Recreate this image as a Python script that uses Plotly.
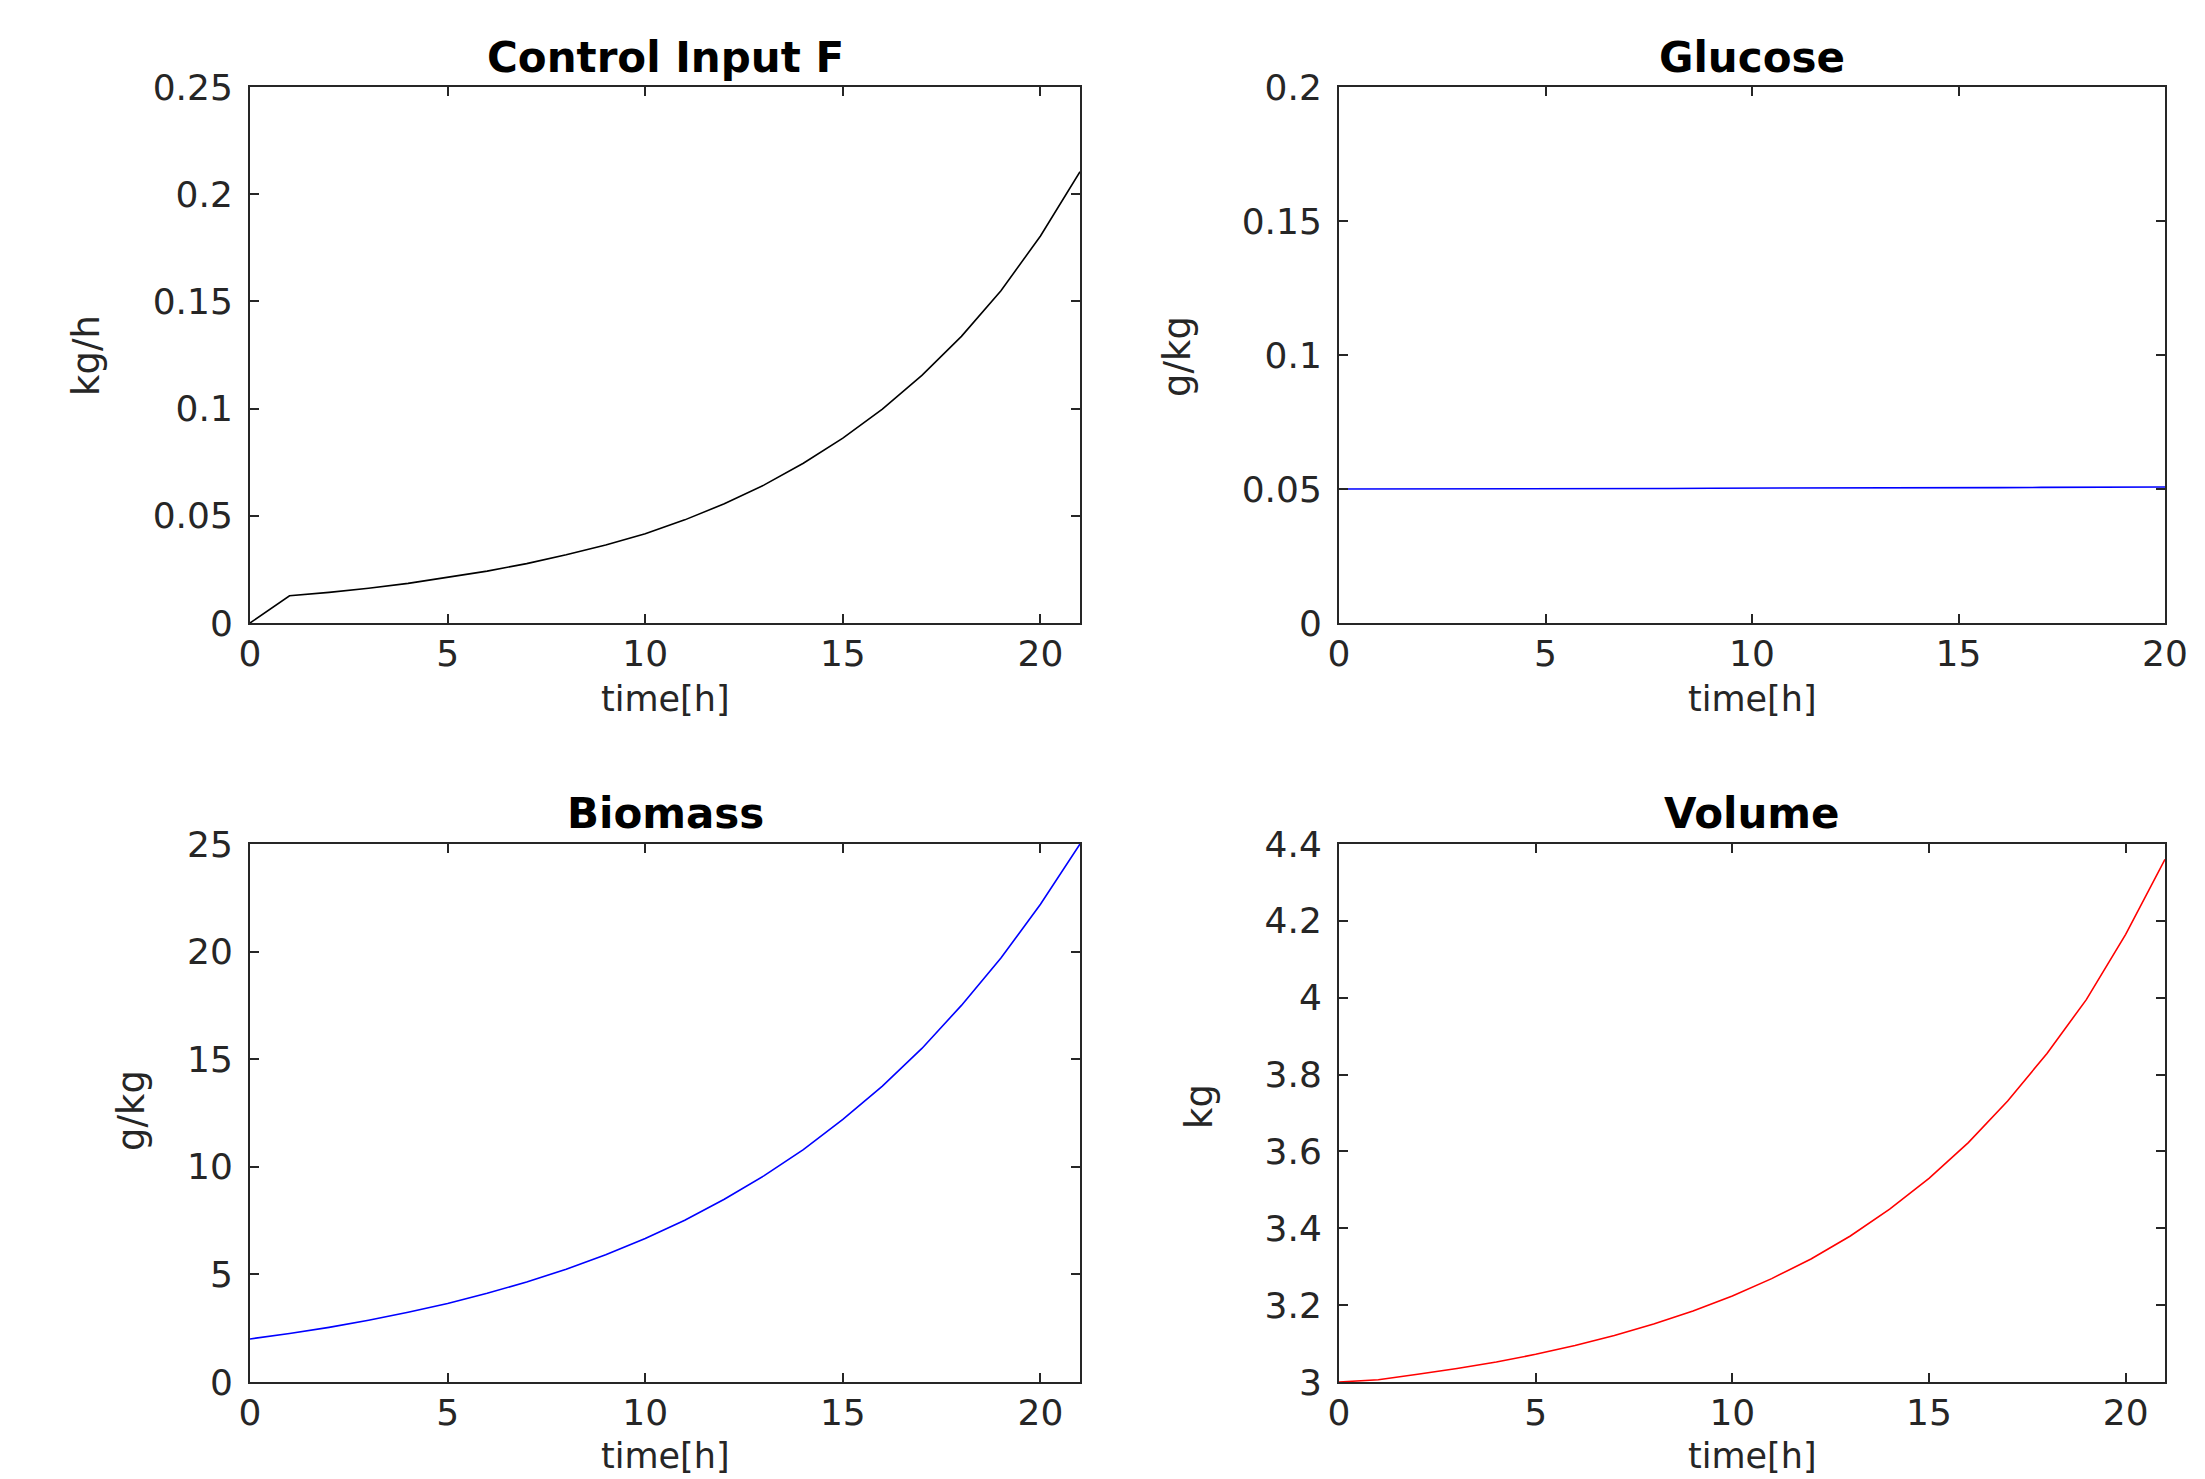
import plotly.graph_objects as go

# ---- data ----
t_hours = list(range(0, 22))
feed_F = [0, 0.0127, 0.0143, 0.0162, 0.0185, 0.0212, 0.0242, 0.0277, 0.0318, 0.0364, 0.0416,
          0.0481, 0.0556, 0.0643, 0.0745, 0.0862, 0.0998, 0.1155, 0.1337, 0.1550, 0.1805, 0.2105]
glucose_S = [0.0500, 0.0500, 0.0500, 0.0501, 0.0501, 0.0501, 0.0502, 0.0502, 0.0502, 0.0503, 0.0503,
             0.0503, 0.0504, 0.0504, 0.0504, 0.0505, 0.0505, 0.0506, 0.0506, 0.0507, 0.0507, 0.0508]
biomass_X = [2.0, 2.25, 2.54, 2.87, 3.24, 3.65, 4.12, 4.65, 5.24, 5.91, 6.67,
             7.52, 8.49, 9.58, 10.8, 12.2, 13.75, 15.5, 17.5, 19.7, 22.2, 25.0]
volume_V = [3.0, 3.006, 3.020, 3.035, 3.052, 3.072, 3.095, 3.121, 3.151, 3.185, 3.224,
            3.269, 3.320, 3.380, 3.450, 3.530, 3.623, 3.731, 3.855, 3.995, 4.165, 4.36]

titles = ["Control Input F", "Glucose", "Biomass", "Volume"]
ylabels = ["kg/h", "g/kg", "g/kg", "kg"]
xlabel = "time[h]"
x_ranges = [[0, 21], [0, 20], [0, 21], [0, 21]]
y_ranges = [[0, 0.25], [0, 0.2], [0, 25], [3, 4.4]]
y_dticks = [0.05, 0.05, 5, 0.2]
colors = ["black", "blue", "blue", "red"]
series = [feed_F, glucose_S, biomass_X, volume_V]

W, H = 2205, 1479
OFF = 8  # page body margin: figure pixel p is shown at p + OFF
# panel pixel boxes on screen (left, right, top, bottom)
boxes = [(250, 1080, 87, 623), (1339, 2165, 87, 623),
         (250, 1080, 844, 1382), (1339, 2165, 844, 1382)]
ylabel_pos = [(86, 356), (1177, 357), (131, 1111), (1199, 1107)]
xlabel_y = [699, 699, 1456, 1456]
title_y = [58, 58, 813, 813]

FONT = "DejaVu Sans"
AX = "#262626"


def px(v):
    return (v - OFF) / W


def py(v):
    return 1 - (v - OFF) / H


fig = go.Figure()
layout = dict(width=W, height=H, margin=dict(l=0, r=0, t=0, b=0, pad=0, autoexpand=False),
              paper_bgcolor="white", plot_bgcolor="white", showlegend=False)
annotations = []
for i in range(4):
    n = "" if i == 0 else str(i + 1)
    l, r, t, b = boxes[i]
    fig.add_trace(go.Scatter(x=t_hours, y=series[i], mode="lines",
                             line=dict(color=colors[i], width=1.6),
                             xaxis="x" + n, yaxis="y" + n, hoverinfo="skip"))
    common = dict(showline=True, linecolor=AX, linewidth=2, mirror="ticks",
                  ticks="inside", ticklen=9, tickwidth=2, tickcolor=AX,
                  showgrid=False, zeroline=False, automargin=False,
                  tickfont=dict(family=FONT, size=36, color=AX))
    layout["xaxis" + n] = dict(common, domain=[px(l), px(r)], range=x_ranges[i],
                               tick0=0, dtick=5, anchor="y" + n, ticklabelstandoff=-2)
    layout["yaxis" + n] = dict(common, domain=[py(b), py(t)], range=y_ranges[i],
                               tick0=y_ranges[i][0], dtick=y_dticks[i], anchor="x" + n,
                               ticklabelstandoff=8)
    cx = (l + r) / 2
    annotations.append(dict(text="<b>%s</b>" % titles[i], x=px(cx), y=py(title_y[i]),
                            xref="paper", yref="paper", showarrow=False,
                            xanchor="center", yanchor="middle",
                            font=dict(family=FONT, size=42, color="black")))
    annotations.append(dict(text=xlabel, x=px(cx), y=py(xlabel_y[i]),
                            xref="paper", yref="paper", showarrow=False,
                            xanchor="center", yanchor="middle",
                            font=dict(family=FONT, size=35, color=AX)))
    annotations.append(dict(text=ylabels[i], x=px(ylabel_pos[i][0]), y=py(ylabel_pos[i][1]),
                            xref="paper", yref="paper", showarrow=False, textangle=-90,
                            xanchor="center", yanchor="middle",
                            font=dict(family=FONT, size=37, color=AX)))
layout["annotations"] = annotations
fig.update_layout(**layout)
fig.write_html("out.html")
